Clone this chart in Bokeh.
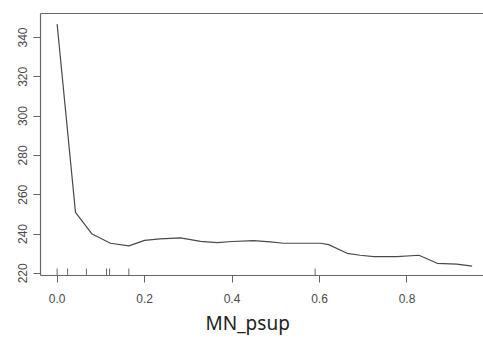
import numpy as np
from bokeh.plotting import figure
from bokeh.models import FixedTicker, Range1d, Title, ColumnDataSource, LinearAxis
from bokeh.embed import file_html
from bokeh.resources import INLINE

# partial dependence curve
x_vals = [0.0, 0.042, 0.08, 0.122, 0.164, 0.2, 0.235, 0.282, 0.328, 0.366, 0.4,
          0.449, 0.488, 0.518, 0.602, 0.621, 0.663, 0.693, 0.724, 0.777, 0.827,
          0.838, 0.869, 0.914, 0.949]
y_vals = [346.8, 251.0, 240.0, 235.3, 234.0, 236.8, 237.5, 238.0, 236.3, 235.6, 236.2,
          236.6, 236.0, 235.3, 235.3, 234.6, 230.2, 229.2, 228.5, 228.5, 229.2,
          228.2, 225.1, 224.7, 223.7]
# rug (deciles of the predictor)
rug_x = [0.0, 0.024, 0.067, 0.113, 0.12, 0.164, 0.59]
rug_y_base = 218.9

x_ticks = [0.0, 0.2, 0.4, 0.6, 0.8]
y_ticks = [220, 240, 260, 280, 300, 320, 340]
x_label = "MN_psup"

AX = "#666666"
TXT = "#4a4a4a"

p = figure(frame_width=443, frame_height=262, output_backend="svg", toolbar_location=None,
           x_range=Range1d(-0.038, 0.975), y_range=Range1d(rug_y_base, 352.2),
           min_border_left=40, min_border_right=0, min_border_top=13,
           min_border_bottom=66)
p.outline_line_color = None
p.grid.visible = False
p.background_fill_color = "white"
p.border_fill_color = "white"

p.line(x_vals, y_vals, line_color="#4a4a4a", line_width=1.2)

rug_src = ColumnDataSource(dict(x=rug_x, y=[rug_y_base] * len(rug_x)))
p.ray(x="x", y="y", length=7, length_units="screen", angle=np.pi / 2,
      line_color=AX, line_width=1, source=rug_src)

bottom_axis = p.below[0]
left_axis = p.left[0]

top_axis = LinearAxis(ticker=FixedTicker(ticks=[]), major_label_text_font_size="0px",
                      major_tick_line_color=None, minor_tick_line_color=None,
                      axis_line_color=AX, axis_line_width=1.2,
                      major_label_standoff=0, major_tick_out=0, major_tick_in=0)
p.add_layout(top_axis, "above")

for ax in (bottom_axis, left_axis):
    ax.axis_line_color = AX
    ax.axis_line_width = 1.2
    ax.major_tick_line_color = AX
    ax.major_tick_out = 7
    ax.major_tick_in = 0
    ax.minor_tick_line_color = None
    ax.major_label_text_font = "Liberation Sans"
    ax.major_label_text_font_size = "12px"
    ax.major_label_text_color = TXT

bottom_axis.ticker = FixedTicker(ticks=x_ticks)
bottom_axis.major_label_overrides = {t: f"{t:.1f}" for t in x_ticks}
bottom_axis.major_label_standoff = 11
left_axis.ticker = FixedTicker(ticks=y_ticks)
left_axis.major_label_orientation = "vertical"
left_axis.major_label_standoff = 6

p.add_layout(Title(text=x_label, align="left", offset=165, text_font="Noto Sans",
                   text_font_size="19px", text_font_style="normal",
                   text_color="#222222", standoff=5), "below")

open("out.html", "w").write(file_html(p, INLINE))
